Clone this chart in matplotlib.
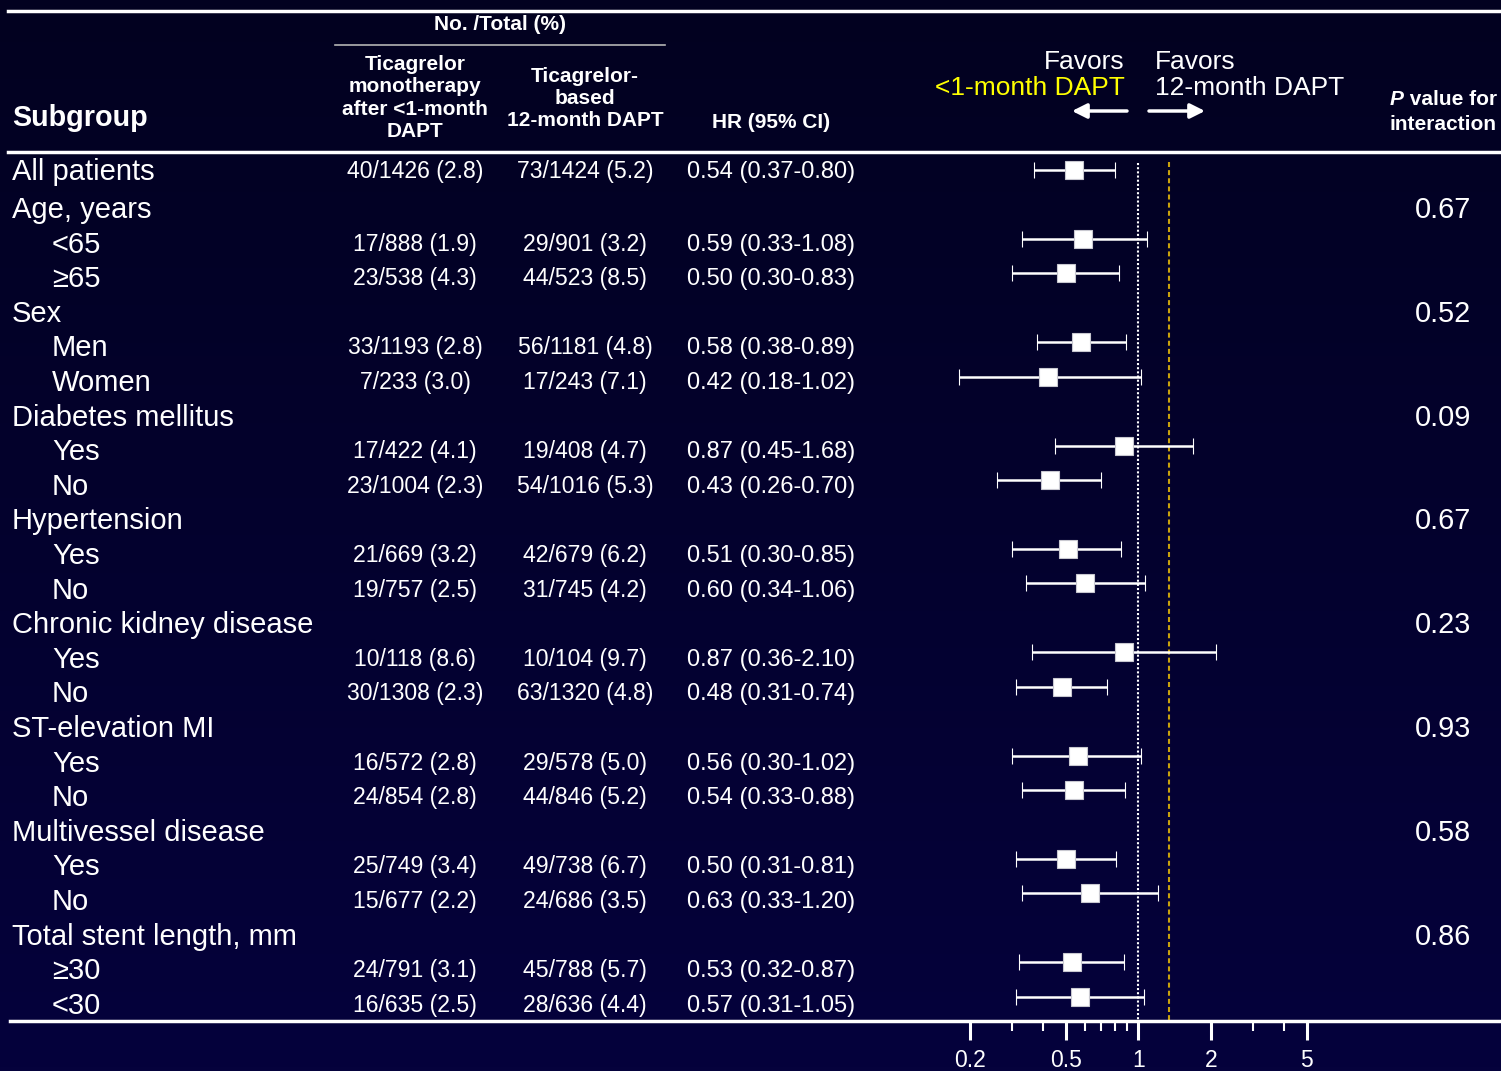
import numpy as np
import matplotlib.pyplot as plt
from matplotlib.colors import LinearSegmentedColormap
from matplotlib.ticker import NullFormatter

# subgroup rows
labels = ['All patients', 'Age, years', '<65', '≥65', 'Sex', 'Men', 'Women',
          'Diabetes mellitus', 'Yes', 'No', 'Hypertension', 'Yes', 'No',
          'Chronic kidney disease', 'Yes', 'No', 'ST-elevation MI', 'Yes', 'No',
          'Multivessel disease', 'Yes', 'No', 'Total stent length, mm', '≥30', '<30']
indent = [0, 0, 1, 1, 0, 1, 1, 0, 1, 1, 0, 1, 1, 0, 1, 1, 0, 1, 1, 0, 1, 1, 0, 1, 1]

# No./Total (%)
mono = ['40/1426 (2.8)', '', '17/888 (1.9)', '23/538 (4.3)', '', '33/1193 (2.8)', '7/233 (3.0)',
        '', '17/422 (4.1)', '23/1004 (2.3)', '', '21/669 (3.2)', '19/757 (2.5)',
        '', '10/118 (8.6)', '30/1308 (2.3)', '', '16/572 (2.8)', '24/854 (2.8)',
        '', '25/749 (3.4)', '15/677 (2.2)', '', '24/791 (3.1)', '16/635 (2.5)']
dapt = ['73/1424 (5.2)', '', '29/901 (3.2)', '44/523 (8.5)', '', '56/1181 (4.8)', '17/243 (7.1)',
        '', '19/408 (4.7)', '54/1016 (5.3)', '', '42/679 (6.2)', '31/745 (4.2)',
        '', '10/104 (9.7)', '63/1320 (4.8)', '', '29/578 (5.0)', '44/846 (5.2)',
        '', '49/738 (6.7)', '24/686 (3.5)', '', '45/788 (5.7)', '28/636 (4.4)']

# hazard ratios and 95% CI
nan = np.nan
hr = np.array([0.54, nan, 0.59, 0.50, nan, 0.58, 0.42, nan, 0.87, 0.43, nan, 0.51, 0.60,
               nan, 0.87, 0.48, nan, 0.56, 0.54, nan, 0.50, 0.63, nan, 0.53, 0.57])
ci_lo = np.array([0.37, nan, 0.33, 0.30, nan, 0.38, 0.18, nan, 0.45, 0.26, nan, 0.30, 0.34,
                  nan, 0.36, 0.31, nan, 0.30, 0.33, nan, 0.31, 0.33, nan, 0.32, 0.31])
ci_hi = np.array([0.80, nan, 1.08, 0.83, nan, 0.89, 1.02, nan, 1.68, 0.70, nan, 0.85, 1.06,
                  nan, 2.10, 0.74, nan, 1.02, 0.88, nan, 0.81, 1.20, nan, 0.87, 1.05])
p_int = ['', '0.67', '', '', '0.52', '', '', '0.09', '', '', '0.67', '', '',
         '0.23', '', '', '0.93', '', '', '0.58', '', '', '0.86', '', '']

major_ticks = [0.2, 0.5, 1, 2, 5]
minor_ticks = [0.3, 0.4, 0.6, 0.7, 0.8, 0.9, 3, 4]
margin_line = 1.34

plt.rcParams['font.family'] = ['Liberation Sans', 'DejaVu Sans']
plt.rcParams['text.color'] = 'white'

W, H = 1501, 1071
fig = plt.figure(figsize=(W / 100, H / 100), dpi=100)

# text layer in pixel coordinates
ax = fig.add_axes([0, 0, 1, 1])
ax.set_xlim(0, W)
ax.set_ylim(H, 0)
ax.axis('off')
bg = LinearSegmentedColormap.from_list('bg', ['#020120', '#05023c'])
ax.imshow(np.linspace(0, 1, 256).reshape(-1, 1), cmap=bg, extent=(0, W, H, 0),
          aspect='auto', zorder=0)

# header
ax.plot([8, W], [11, 11], color='white', lw=2.5)
ax.plot([8, W], [152, 152], color='white', lw=2.5)
ax.plot([335, 665], [45, 45], color='#b4b4b4', lw=1.2)
ax.text(500, 25, 'No. /Total (%)', fontsize=15, fontweight='bold', ha='center', va='center')
ax.text(12, 118, 'Subgroup', fontsize=20.7, fontweight='bold', va='center')
ax.text(415, 98, 'Ticagrelor\nmonotherapy\nafter <1-month\nDAPT', fontsize=15,
        fontweight='bold', ha='center', va='center', linespacing=1.22)
ax.text(585, 98.5, 'Ticagrelor-\nbased\n12-month DAPT', fontsize=15,
        fontweight='bold', ha='center', va='center', linespacing=1.22)
ax.text(712, 123, 'HR (95% CI)', fontsize=15, fontweight='bold', va='center')

ax.text(1125, 62, 'Favors', fontsize=19, ha='right', va='center')
ax.text(1125, 88, '<1-month DAPT', fontsize=19, color='#ffff00', ha='right', va='center')
ax.text(1155, 62, 'Favors', fontsize=19, ha='left', va='center')
ax.text(1155, 88, '12-month DAPT', fontsize=19, ha='left', va='center')
arrow = dict(arrowstyle='-|>', color='white', lw=2.5, mutation_scale=22, shrinkA=0, shrinkB=0)
ax.annotate('', xy=(1072, 111), xytext=(1127, 111), arrowprops=arrow)
ax.annotate('', xy=(1205, 111), xytext=(1149, 111), arrowprops=arrow)

tp = ax.text(1390, 109, 'P', fontsize=15, fontweight='bold', fontstyle='italic', va='bottom')
ax.annotate(' value for', xy=(1, 0), xycoords=tp, fontsize=15, fontweight='bold',
            ha='left', va='bottom')
ax.text(1443, 124, 'interaction', fontsize=15, fontweight='bold', ha='center', va='center')

# table rows
idx = np.arange(len(labels))
y_txt = np.where(idx == 0, 170, 208 + (idx - 1) * 34.6)
for i in idx:
    x = 52 if indent[i] else 12
    ax.text(x, y_txt[i] + 10, labels[i], fontsize=21, va='baseline')
    if mono[i]:
        ax.text(415, y_txt[i] + 8, mono[i], fontsize=16.6, ha='center', va='baseline')
        ax.text(585, y_txt[i] + 8, dapt[i], fontsize=16.6, ha='center', va='baseline')
        ax.text(687, y_txt[i] + 8, f'{hr[i]:.2f} ({ci_lo[i]:.2f}-{ci_hi[i]:.2f})',
                fontsize=17, va='baseline')
    if p_int[i]:
        ax.text(1443, y_txt[i] + 10, p_int[i], fontsize=20.8, ha='center', va='baseline')

# forest panel (log scale)
x0, px02, dec = 10, 970, 241
axf = fig.add_axes([x0 / W, (H - 1021) / H, (W - x0) / W, 1021 / H])
axf.patch.set_alpha(0)
axf.set_xscale('log')
lg = np.log10(0.2)
axf.set_xlim(10 ** (lg + (x0 - px02) / dec), 10 ** (lg + (W - px02) / dec))
axf.set_ylim(1021, 0)
for s in ['top', 'left', 'right']:
    axf.spines[s].set_visible(False)
axf.spines['bottom'].set_color('white')
axf.spines['bottom'].set_linewidth(2.5)
axf.set_yticks([])
axf.set_xticks(major_ticks, labels=[f'{t:g}' for t in major_ticks])
axf.set_xticks(minor_ticks, minor=True)
axf.xaxis.set_minor_formatter(NullFormatter())
axf.tick_params(axis='x', which='major', length=14, width=2.2, colors='white',
                labelsize=16.5, pad=6)
axf.tick_params(axis='x', which='minor', length=7, width=1.5, colors='white')

axf.plot([1, 1], [163, 1020], color='white', lw=1.5, ls=(0, (1, 1)))
axf.plot([margin_line, margin_line], [162, 1020], color='#c9a20c', lw=1.5, ls=(0, (2.4, 1.5)))

y_mk = 170 + 34.45 * idx
ok = ~np.isnan(hr)
axf.errorbar(hr[ok], y_mk[ok], xerr=[hr[ok] - ci_lo[ok], ci_hi[ok] - hr[ok]], fmt='s',
             ms=12.5, mfc='white', mec='#c8c8d0', mew=0.8, ecolor='white',
             elinewidth=1.8, capsize=6, capthick=1.8, zorder=3)

fig.savefig('out.png', dpi=100)
